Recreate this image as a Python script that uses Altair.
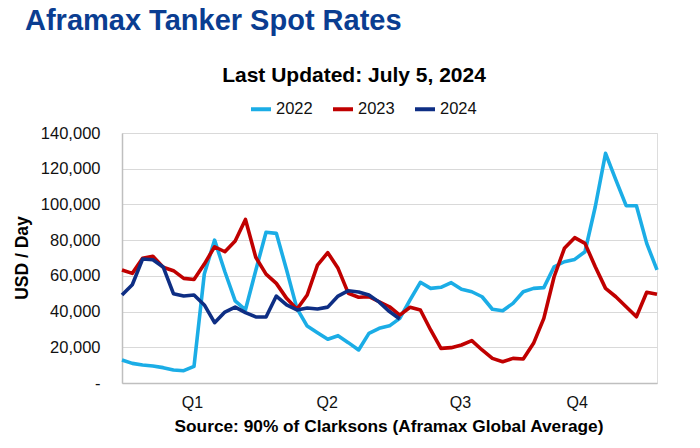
import altair as alt
import pandas as pd

# ---- data (USD/day, weekly) ----
weeks = list(range(53))
years = ["2022", "2023", "2024"]
rates_2022 = [12900, 11000, 10100, 9500, 8600, 7300, 6900, 9300, 61000, 80000,
              62300, 46000, 41000, 63000, 84400, 83800, 63300, 41800, 31900, 28200,
              24500, 26500, 22600, 18500, 27800, 30600, 32000, 36200, 46500, 56400,
              53000, 53600, 56200, 52500, 51100, 48300, 41300, 40500, 44600, 51100,
              53000, 53400, 65100, 67900, 69200, 73500, 98700, 128600, 113700, 99300,
              99300, 78200, 63300]
rates_2023 = [63300, 61400, 69800, 71000, 64800, 62900, 58600, 58000, 66600, 76300,
              73500, 79500, 91600, 70400, 61000, 55800, 47400, 41300, 49300, 66000,
              73000, 64200, 50200, 48000, 48300, 45500, 42700, 38000, 42400, 40900,
              29700, 19400, 19800, 21300, 23700, 18500, 13800, 11900, 13800, 13400,
              22200, 36200, 59500, 75400, 81400, 78200, 65100, 53000, 48300, 42700,
              37100, 50800, 49700]
rates_2024 = [49300, 55000, 69400, 69000, 65000, 50000, 48700, 49300, 43700, 33800,
              39700, 42500, 39400, 37000, 37000, 48700, 43700, 40900, 42000, 41400,
              42500, 48700, 51700, 51000, 49300, 45300, 40000, 35800]

quarter_labels = ["Q1", "Q2", "Q3", "Q4"]
quarter_pos = [6.8, 19.9, 32.85, 44.2]
y_ticks = [0, 20000, 40000, 60000, 80000, 100000, 120000, 140000]
colors = ["#1BADE6", "#C00000", "#0E2E84"]

rows = []
for yr, series in zip(years, [rates_2022, rates_2023, rates_2024]):
    for w, v in zip(weeks, series):
        rows.append({"week": w, "rate": v, "year": yr})
df = pd.DataFrame(rows)

FONT = "Liberation Sans"

pos_list = "[" + ",".join(str(p) for p in quarter_pos) + "]"
lab_list = "[" + ",".join("'" + q + "'" for q in quarter_labels) + "]"
x_label_expr = f"{lab_list}[indexof({pos_list}, datum.value)]"
y_label_expr = "datum.value == 0 ? '-\u00a0\u00a0' : format(datum.value, ',')"

lines = alt.Chart(df).mark_line(strokeWidth=3.6, strokeJoin="round").encode(
    x=alt.X("week:Q",
            scale=alt.Scale(domain=[0, 52], nice=False, zero=False),
            axis=alt.Axis(values=quarter_pos, labelExpr=x_label_expr, ticks=False,
                          grid=False, domainColor="#bfbfbf", domainWidth=1.5,
                          labelFontSize=16, labelPadding=11, labelColor="#111",
                          labelFont=FONT, title=None)),
    y=alt.Y("rate:Q",
            scale=alt.Scale(domain=[0, 140000], nice=False),
            axis=alt.Axis(values=y_ticks, labelExpr=y_label_expr, ticks=False,
                          gridColor="#d9d9d9", gridWidth=1, domainColor="#bfbfbf",
                          domainWidth=1.5, labelFontSize=16.5, labelPadding=22,
                          labelColor="#111", labelFont=FONT, title=None)),
    color=alt.Color("year:N",
                    scale=alt.Scale(domain=years, range=colors),
                    legend=alt.Legend(orient="none", legendX=127, legendY=-36,
                                      direction="horizontal", title=None,
                                      symbolType="stroke", symbolStrokeWidth=4,
                                      symbolSize=400, labelFontSize=16.5,
                                      labelFont=FONT, labelColor="#111",
                                      labelOffset=3, columnPadding=12)),
)

def label(text, x, y, size, color="#000", weight="bold", align="center", angle=0):
    return alt.Chart(pd.DataFrame({"t": [text]})).mark_text(
        font=FONT, fontSize=size, fontWeight=weight, color=color,
        align=align, baseline="alphabetic", angle=angle
    ).encode(text="t:N", x=alt.value(x), y=alt.value(y))

title = label("Aframax Tanker Spot Rates", -97, -103, 29, color="#0A3D91", align="left")
subtitle = label("Last Updated: July 5, 2024", 232, -51, 21)
ytitle = label("USD / Day", -94, 125, 17.5, angle=270)
source = label("Source: 90% of Clarksons (Aframax Global Average)", 267, 299, 17.3)

chart = alt.layer(lines, title, subtitle, ytitle, source).properties(
    width=535, height=250,
    padding={"left": 114, "top": 125, "right": 35, "bottom": 57},
    autosize=alt.AutoSizeParams(type="none"),
).configure_view(strokeWidth=0).configure(background="white")

chart.save("out.html", embed_options={"renderer": "svg", "actions": False})
